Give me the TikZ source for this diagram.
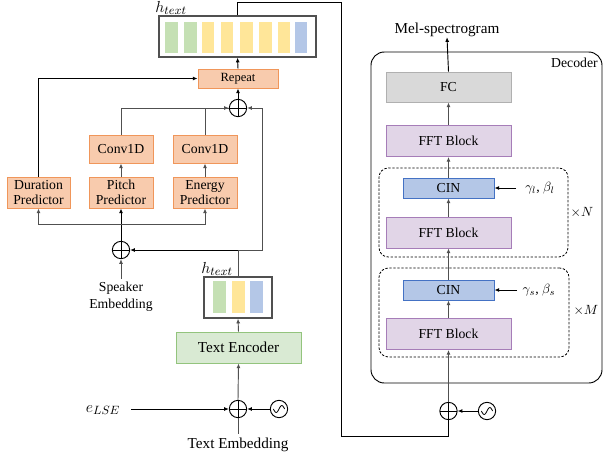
\documentclass[tikz,border=0pt]{standalone}
\usepackage{fontspec}
\setmainfont{Liberation Serif}
\usetikzlibrary{arrows.meta}
\definecolor{orF}{HTML}{F8CBAD}
\definecolor{orD}{HTML}{F0965A}
\definecolor{grF}{HTML}{D9EAD3}
\definecolor{grD}{HTML}{93C47D}
\definecolor{puF}{HTML}{E1D5E7}
\definecolor{puD}{HTML}{A67DB8}
\definecolor{blF}{HTML}{B4C7E7}
\definecolor{blD}{HTML}{4472C4}
\definecolor{fcF}{HTML}{D9D9D9}
\definecolor{fcD}{HTML}{B0B0B0}
\definecolor{barG}{HTML}{C5E0B4}
\definecolor{barY}{HTML}{FFE699}
\definecolor{barB}{HTML}{B4C7E7}
\definecolor{ln}{HTML}{505050}
\tikzset{
  box/.style={draw, line width=0.7pt, inner sep=0pt, align=center, font=\fontsize{10.3}{11.5}\selectfont},
  obox/.style={box, fill=orF, draw=orD},
  pbox/.style={box, fill=puF, draw=puD, minimum width=93.75pt, minimum height=23.25pt},
  cbox/.style={box, fill=blF, draw=blD, minimum width=68.25pt, minimum height=15pt},
  hbox/.style={draw=ln, line width=1pt, fill=white, inner sep=0pt, minimum height=30.75pt},
  bar/.style={inner sep=0pt, minimum width=9.5pt},
  oplus/.style={circle, draw, line width=0.7pt, minimum size=13pt, inner sep=0pt,
    path picture={\draw[line width=0.7pt] (path picture bounding box.north) -- (path picture bounding box.south)
      (path picture bounding box.west) -- (path picture bounding box.east);}},
  sine/.style={circle, draw, line width=0.7pt, minimum size=13pt, inner sep=0pt,
    path picture={\draw[line width=0.6pt, shift={(path picture bounding box.center)}]
      plot[domain=-1:1, samples=25, smooth] ({4.2pt*\x},{2.6pt*sin(\x*180)});}},
  arr/.style={draw=ln, line width=0.7pt, -{Latex[length=3.5pt,width=3pt]}},
  lin/.style={draw=ln, line width=0.7pt},
  lbl/.style={inner sep=0pt, font=\fontsize{10.3}{12.5}\selectfont, align=center},
  big/.style={inner sep=0pt, font=\fontsize{11.4}{13}\selectfont},
  dbox/.style={draw=black, dash pattern=on 1.8pt off 1.2pt, line width=0.6pt, rounded corners=7pt, inner sep=0pt},
}
\begin{document}
\begin{tikzpicture}[x=0.75pt, y=-0.75pt]
\useasboundingbox (0,0) rectangle (604,461);

% ---------- top h_text box
\node[hbox, minimum width=117.75pt] (htop) at (237.5,36.5) {};
\foreach \cx/\c [count=\i] in {171.5/barG,190.5/barG,208/barY,227/barY,246.5/barY,265.5/barY,284/barY,301/barB}
  \node[bar, fill=\c, minimum height=23.25pt] (tb\i) at (\cx,37.5) {};
\node[inner sep=0pt, font=\fontsize{12.5}{14}\selectfont] (htoplbl) at (171,8) {\(h_{text}\)};

\node[obox, minimum width=60pt, minimum height=14.25pt, font=\fontsize{9.4}{11}\selectfont] (repeat) at (238,78.5) {Repeat};
\node[oplus] (optop) at (238,108) {};

\node[obox, minimum width=48pt, minimum height=21pt] (conv1) at (121,149) {Conv1D};
\node[obox, minimum width=48pt, minimum height=21pt] (conv2) at (205,149) {Conv1D};
\node[obox, minimum width=47.25pt, minimum height=23.25pt] (dur) at (38.5,192.5) {Duration\\Predictor};
\node[obox, minimum width=48pt, minimum height=23.25pt] (pitch) at (121,192.5) {Pitch\\Predictor};
\node[obox, minimum width=48pt, minimum height=23.25pt] (energy) at (205,192.5) {Energy\\Predictor};

\node[oplus] (opsp) at (121,250) {};
\node[lbl] (spk) at (121,297) {Speaker\\Embedding};

% small h_text box
\node[hbox, minimum width=51pt] (hsmall) at (238,297.5) {};
\foreach \cx/\c [count=\i] in {219.5/barG,238.5/barY,256.5/barB}
  \node[bar, fill=\c, minimum height=24pt] (sb\i) at (\cx,297) {};
\node[inner sep=0pt, font=\fontsize{12.5}{14}\selectfont] (hsmalllbl) at (217,269) {\(h_{text}\)};

\node[box, fill=grF, draw=grD, minimum width=93.75pt, minimum height=23.25pt, font=\fontsize{11.4}{13}\selectfont] (enc) at (238.5,347.5) {Text Encoder};
\node[oplus] (opbot) at (238,409) {};
\node[sine] (sinb) at (279,409) {};
\node[inner sep=0pt, font=\fontsize{12.5}{14}\selectfont] (elabel) at (103,410) {\(e_{LSE}\)};
\node[big] (temb) at (238,445) {Text Embedding};

% ---------- decoder
\node[draw, line width=0.7pt, rounded corners=10pt, minimum width=173.25pt, minimum height=248.25pt, inner sep=0pt] (decbox) at (486.5,217.5) {};
\node[lbl, anchor=east] (declbl) at (598,63) {Decoder};
\node[big] (mel) at (447,30) {Mel-spectrogram};
\node[box, fill=fcF, draw=fcD, minimum width=93.75pt, minimum height=22.5pt] (fc) at (448.5,87) {FC};
\node[pbox] (fft1) at (448.5,141) {FFT Block};
\node[dbox, minimum width=141.75pt, minimum height=66.75pt] (dN) at (473.5,212.5) {};
\node[cbox] (cinL) at (448.5,188) {CIN};
\node[lbl] (gl) at (540,188) {\(\gamma_l\), \(\beta_l\)};
\node[lbl] (xN) at (582,212) {\(\times N\)};
\node[pbox] (fftN) at (448.5,232.5) {FFT Block};
\node[dbox, minimum width=142.5pt, minimum height=66.75pt] (dM) at (474,312.5) {};
\node[cbox] (cinS) at (448.5,290) {CIN};
\node[lbl] (gs) at (539,290) {\(\gamma_s\), \(\beta_s\)};
\node[lbl] (xM) at (586,310) {\(\times M\)};
\node[pbox] (fftM) at (448.5,334) {FFT Block};
\node[oplus] (opdec) at (448.5,411) {};
\node[sine] (sind) at (487,411) {};

% ---------- connectors (left)
\draw[arr, draw=black] (repeat.north) -- (htop.south);
\draw[arr, draw=black] (optop.north) -- (repeat.south);
\draw[arr, draw=black] (dur.north) |- (repeat.west);
\draw[arr] (conv1.north) |- (optop.west);
\draw[lin] (conv2.north) |- (optop.west);
\draw[arr] (pitch.north) -- (conv1.south);
\draw[arr] (energy.north) -- (conv2.south);
\coordinate (rj) at (262,250);
\draw[arr] (hsmall.north) |- (rj) |- (optop.east);
\draw[arr, draw=black] (hsmall.north |- opsp.center) -- (opsp.east);
\draw[arr] (spk.north) ++(0,-3) -- (opsp.south);
\draw[arr, draw=black] (opsp.north) -- (pitch.south);
\coordinate (hb) at (121,224);
\draw[arr] (hb) -| (dur.south);
\draw[arr] (hb) -| (energy.south);
\draw[arr] (enc.north) -- (hsmall.south);
\draw[arr] (opbot.north) -- (enc.south);
\draw[lin] (temb.north) ++(0,-4) -- (opbot.south);
\coordinate (es) at (131,409);
\draw[arr, draw=black] (es) -- (opbot.west);
\draw[arr, draw=black] (sinb.west) -- (opbot.east);

% long route to decoder
\coordinate (r1) at (341,2);
\coordinate (r2) at (341,436);
\draw[lin, draw=black] (htop.north) |- (r1) -- (r2) -| (opdec.south);

% ---------- connectors (decoder)
\draw[arr] (opdec.north) -- (fftM.south);
\draw[arr] (fftM.north) -- (cinS.south);
\draw[arr] (cinS.north) -- (fftN.south);
\draw[arr] (fftN.north) -- (cinL.south);
\draw[arr] (cinL.north) -- (fft1.south);
\draw[arr] (fft1.north) -- (fc.south);
\draw[arr, draw=black] (fc.north) -- (mel.south);
\draw[arr, draw=black] (sind.west) -- (opdec.east);
\coordinate (glS) at (516,188);
\coordinate (gsS) at (517,290);
\draw[arr, draw=black] (glS) -- (cinL.east);
\draw[arr, draw=black] (gsS) -- (cinS.east);
\end{tikzpicture}
\end{document}
